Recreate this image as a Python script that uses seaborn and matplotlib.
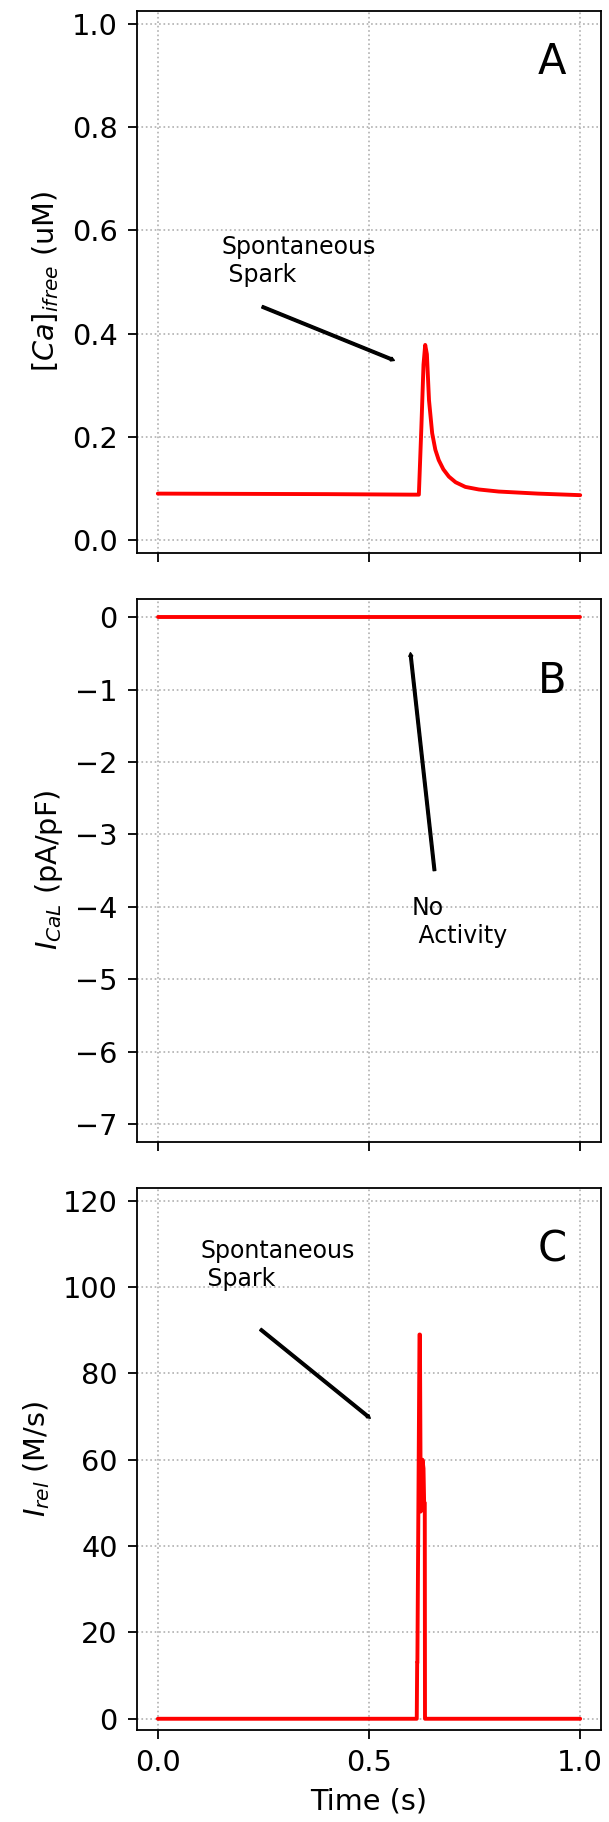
import matplotlib
matplotlib.use("Agg")
import matplotlib.pyplot as plt
import seaborn as sns
import pandas as pd

# ---- data ----
ca_time = [0.0, 0.2, 0.4, 0.6, 0.618, 0.624, 0.629, 0.633, 0.637, 0.642, 0.6495,
           0.657, 0.665, 0.676, 0.689, 0.705, 0.728, 0.76, 0.807, 0.9, 1.0]
ca_conc = [0.090, 0.0895, 0.089, 0.088, 0.088, 0.22, 0.34, 0.378, 0.36, 0.271, 0.207,
           0.175, 0.155, 0.137, 0.123, 0.112, 0.103, 0.098, 0.094, 0.090, 0.087]

ical_time = [0.0, 0.5, 1.0]
ical_curr = [0.0, 0.0, 0.0]

rel_time = [0.0, 0.613, 0.614, 0.6145, 0.6195, 0.6205, 0.6225, 0.6265, 0.629,
            0.6305, 0.632, 0.6325, 0.634, 1.0]
rel_flux = [0, 0, 13, 13, 89, 89, 48, 60, 58, 50, 50, 0, 0, 0]

x_ticks = [0.0, 0.5, 1.0]
ca_ticks = [0.0, 0.2, 0.4, 0.6, 0.8, 1.0]
ical_ticks = [0, -1, -2, -3, -4, -5, -6, -7]
rel_ticks = [0, 20, 40, 60, 80, 100, 120]
panel_labels = ["A", "B", "C"]

sns.set_style("ticks")
plt.rcParams['font.family'] = ['DejaVu Sans']
plt.rcParams['mathtext.fontset'] = 'dejavusans'
plt.rcParams['text.color'] = 'black'
plt.rcParams['axes.labelcolor'] = 'black'
plt.rcParams['xtick.color'] = 'black'
plt.rcParams['ytick.color'] = 'black'

TICK_FS = 20.7
fig = plt.figure(figsize=(6.09, 18.22), dpi=100)
axA = fig.add_axes([0.2245, 0.6965, 0.7629, 0.2975])
axB = fig.add_axes([0.2245, 0.3734, 0.7629, 0.2979])
axC = fig.add_axes([0.2245, 0.0505, 0.7629, 0.2976])

dfA = pd.DataFrame({"t": ca_time, "v": ca_conc})
dfB = pd.DataFrame({"t": ical_time, "v": ical_curr})
dfC = pd.DataFrame({"t": rel_time, "v": rel_flux})

for ax, df in zip([axA, axB, axC], [dfA, dfB, dfC]):
    sns.lineplot(data=df, x="t", y="v", ax=ax, color="red", linewidth=2.8,
                 estimator=None, sort=False)
    ax.grid(True, linestyle=":", color="#b0b0b0", linewidth=1.2)
    ax.set_axisbelow(True)
    for s in ax.spines.values():
        s.set_linewidth(1.3)
        s.set_color("black")
        s.set_visible(True)
    ax.tick_params(axis="both", labelsize=TICK_FS, length=6.7, width=1.3,
                   pad=7, color="black", labelcolor="black", direction="out")
    ax.set_xticks(x_ticks)
    ax.set_xlim(-0.05, 1.05)
    ax.set_xlabel("")

axA.set_yticks(ca_ticks)
axA.set_ylim(-0.025, 1.025)
axB.set_yticks(ical_ticks)
axB.set_ylim(-7.245, 0.253)
axC.set_yticks(rel_ticks)
axC.set_ylim(-2.6, 123.0)

axA.tick_params(axis="x", labelbottom=False)
axB.tick_params(axis="x", labelbottom=False)

axA.set_ylabel(r"$[Ca]_{ifree}$ (uM)", fontsize=TICK_FS, labelpad=7.5, color="black")
axB.set_ylabel(r"$I_{CaL}$ (pA/pF)", fontsize=TICK_FS, labelpad=7.5, color="black")
axC.set_ylabel(r"$I_{rel}$ (M/s)", fontsize=TICK_FS, labelpad=7.5, color="black")
axC.set_xlabel("Time (s)", fontsize=TICK_FS, labelpad=7.5, color="black")

# panel letters
axA.text(0.9, 0.903, panel_labels[0], fontsize=30, va="baseline", ha="left", color="black")
axB.text(0.9, -1.05, panel_labels[1], fontsize=30, va="baseline", ha="left", color="black")
axC.text(0.9, 105.9, panel_labels[2], fontsize=30, va="baseline", ha="left", color="black")

ANN_FS = 17
arrow = dict(facecolor="black", edgecolor="black", width=1.9, headwidth=2.8,
             headlength=2.5, shrink=0)

axA.text(0.15, 0.50, "Spontaneous\n Spark", fontsize=ANN_FS, va="baseline", color="black")
axA.annotate("", xy=(0.560, 0.348), xytext=(0.247, 0.452), arrowprops=arrow)

axB.text(0.60, -4.5, "No\n Activity", fontsize=ANN_FS, va="baseline", color="black")
axB.annotate("", xy=(0.598, -0.49), xytext=(0.655, -3.5), arrowprops=arrow)

axC.text(0.10, 100.2, "Spontaneous\n Spark", fontsize=ANN_FS, va="baseline", color="black")
axC.annotate("", xy=(0.503, 69.6), xytext=(0.243, 90.2), arrowprops=arrow)

fig.savefig("out.png", dpi=100)
